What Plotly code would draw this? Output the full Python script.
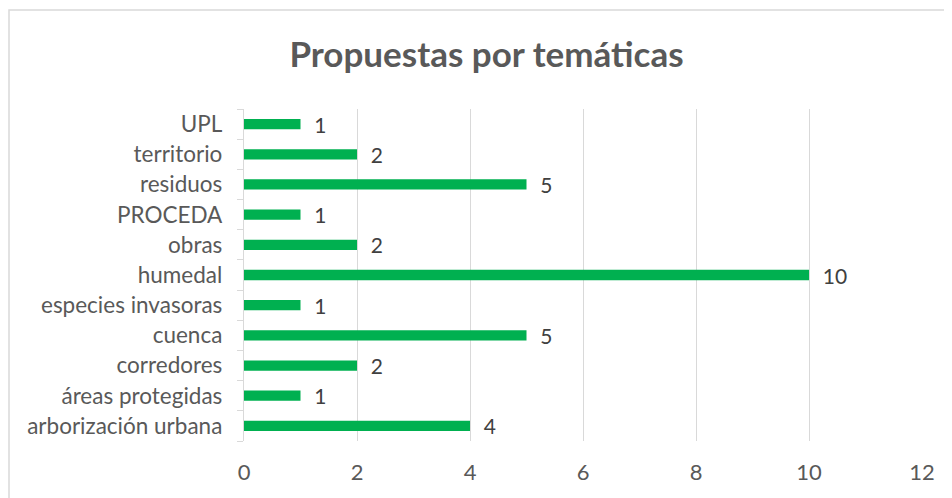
import plotly.graph_objects as go

categories = ["arborización urbana", "áreas protegidas", "corredores", "cuenca",
              "especies invasoras", "humedal", "obras", "PROCEDA", "residuos",
              "territorio", "UPL"]
values = [4, 1, 2, 5, 1, 10, 2, 1, 5, 2, 1]
x_ticks = [0, 2, 4, 6, 8, 10, 12]

FONT = "Lato"
fig = go.Figure(go.Bar(
    y=categories, x=values, orientation="h",
    marker=dict(color="#00B050", line=dict(width=0)),
    width=0.34,
    text=["\u00a0\u00a0" + str(v) for v in values], textposition="outside",
    textfont=dict(family=FONT, size=21, color="#404040"),
    constraintext="none",
    cliponaxis=False,
))

# page body has an 8px margin; plot area targets screen x 244-922, y 109-441
fig.update_layout(
    width=952, height=498,
    margin=dict(l=236, r=38, t=101, b=65, autoexpand=False),
    paper_bgcolor="white", plot_bgcolor="white",
    title=dict(text="<b>Propuestas por temáticas</b>", x=(478.5 - 236) / 678,
               xanchor="center", xref="paper",
               y=1 - 47 / 498, yanchor="middle",
               font=dict(family=FONT, size=35, color="#595959")),
    showlegend=False,
    xaxis=dict(range=[0, 12], tickvals=x_ticks, showgrid=True, gridcolor="#D9D9D9",
               gridwidth=1.3, zeroline=False, showline=False,
               tickfont=dict(family=FONT, size=22, color="#595959"),
               ticklabelstandoff=16),
    yaxis=dict(type="category", categoryorder="array", categoryarray=categories,
               showline=True, linecolor="#D9D9D9", linewidth=1.3,
               ticks="outside", tickson="boundaries", ticklen=6, tickcolor="#D9D9D9",
               tickfont=dict(family=FONT, size=22.5, color="#595959"),
               ticklabelstandoff=16, showgrid=False),
    shapes=[dict(type="rect", xref="paper", yref="paper",
                 x0=(1 - 236) / 678, x1=1.2, y0=-0.5, y1=1 + 99 / 332,
                 line=dict(color="#D9D9D9", width=1.5), layer="below")],
)
fig.write_html("out.html")
